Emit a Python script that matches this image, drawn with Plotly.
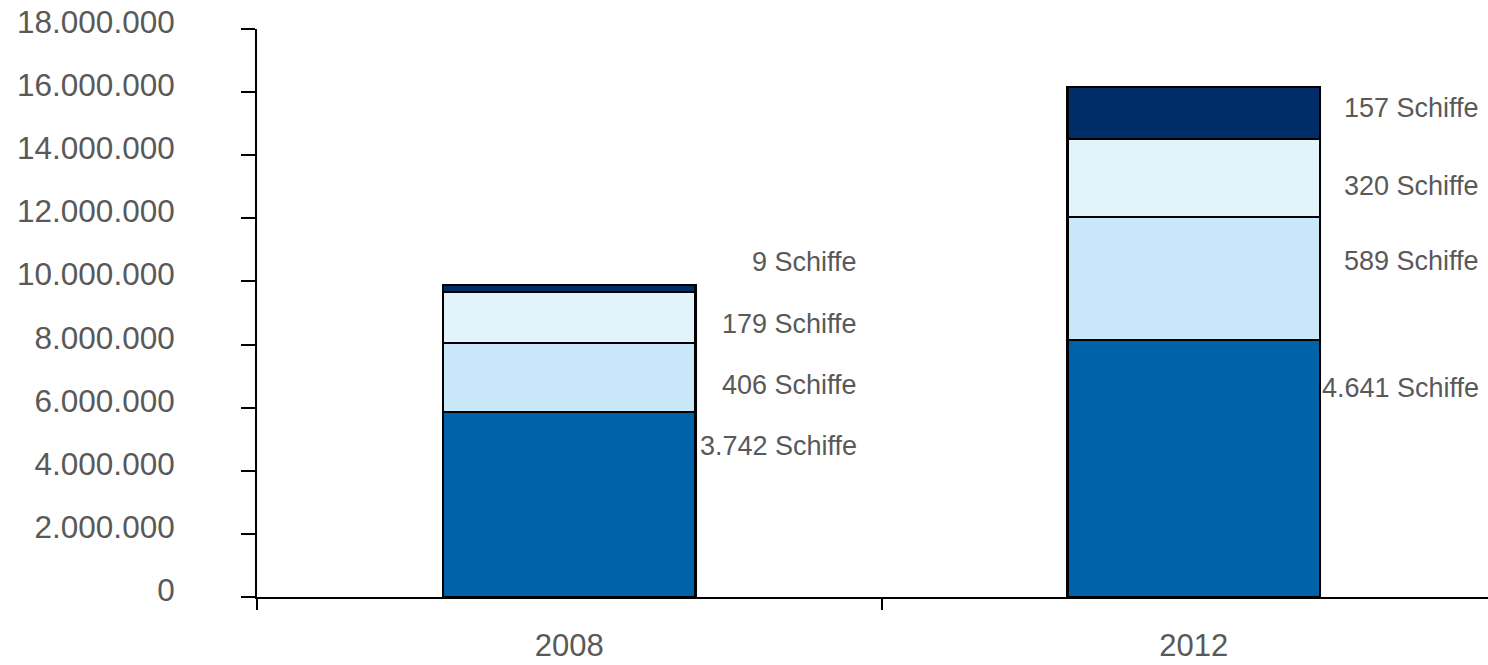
import plotly.graph_objects as go

years = ["2008", "2012"]
series_names = ["Segment 1", "Segment 2", "Segment 3", "Segment 4"]
values = {
    "Segment 1": [5860000, 8140000],
    "Segment 2": [2190000, 3900000],
    "Segment 3": [1610000, 2470000],
    "Segment 4": [220000, 1650000],
}
ship_labels = {
    "2008": ["3.742 Schiffe", "406 Schiffe", "179 Schiffe", "9 Schiffe"],
    "2012": ["4.641 Schiffe", "589 Schiffe", "320 Schiffe", "157 Schiffe"],
}
y_ticks = list(range(0, 18000001, 2000000))
y_tick_text = [f"{v:,}".replace(",", ".") for v in y_ticks]

colors = ["#0062A9", "#C8E7F8", "#E2F3FB", "#002C68"]
text_color = "#595959"
font_family = "Liberation Sans, Arial, sans-serif"

W, H = 1488, 665
left, right_edge, top, bottom = 257, 1488, 29, 597
pw, ph = right_edge - left, bottom - top
cat_px = 624.5          # pixel spacing between category centres
x0 = -0.5               # left end of the category axis

fig = go.Figure()
for name, col in zip(series_names, colors):
    fig.add_trace(go.Bar(
        x=years, y=values[name], name=name,
        marker=dict(color=col, line=dict(color="black", width=2.5)),
        width=0.405, hoverinfo="skip",
    ))

# label placement (pixels from top-left of figure; right edge x)
label_rows = {
    "2008": dict(right=859, ys=[446, 385, 324, 262]),
    "2012": dict(right=1481, ys=[388, 261, 186, 108]),
}
for yr in years:
    spec = label_rows[yr]
    for txt, ypx in zip(ship_labels[yr], spec["ys"]):
        fig.add_annotation(
            x=(spec["right"] - left) / pw, y=(bottom - ypx) / ph,
            xref="paper", yref="paper",
            text=txt, showarrow=False, xanchor="right", yanchor="middle",
            font=dict(size=27, color=text_color, family=font_family),
        )

fig.update_layout(
    width=W, height=H,
    barmode="stack",
    showlegend=False,
    plot_bgcolor="white", paper_bgcolor="white",
    margin=dict(l=left, r=W - right_edge, t=top, b=H - bottom, pad=0, autoexpand=False),
    font=dict(family=font_family, color=text_color),
)
fig.update_xaxes(
    type="category", range=[x0, x0 + pw / cat_px],
    showline=True, linecolor="black", linewidth=2,
    ticks="outside", ticklen=11, tickwidth=2, tickcolor="black",
    tickson="boundaries", showgrid=False, zeroline=False, automargin=False,
    tickfont=dict(size=31, color=text_color, family=font_family),
    ticklabelstandoff=20,
)
fig.update_yaxes(
    range=[0, 18000000], tickvals=y_ticks, ticktext=y_tick_text,
    showline=True, linecolor="black", linewidth=2,
    ticks="outside", ticklen=14, tickwidth=2, tickcolor="black",
    showgrid=False, zeroline=False, automargin=False,
    tickfont=dict(size=31.5, color=text_color, family=font_family),
    ticklabelstandoff=60, ticklabelshift=-7,
)

fig.write_html(
    "out.html",
    config={"displayModeBar": False},
    post_script="document.body.style.margin='0';document.body.style.overflow='hidden';",
)
